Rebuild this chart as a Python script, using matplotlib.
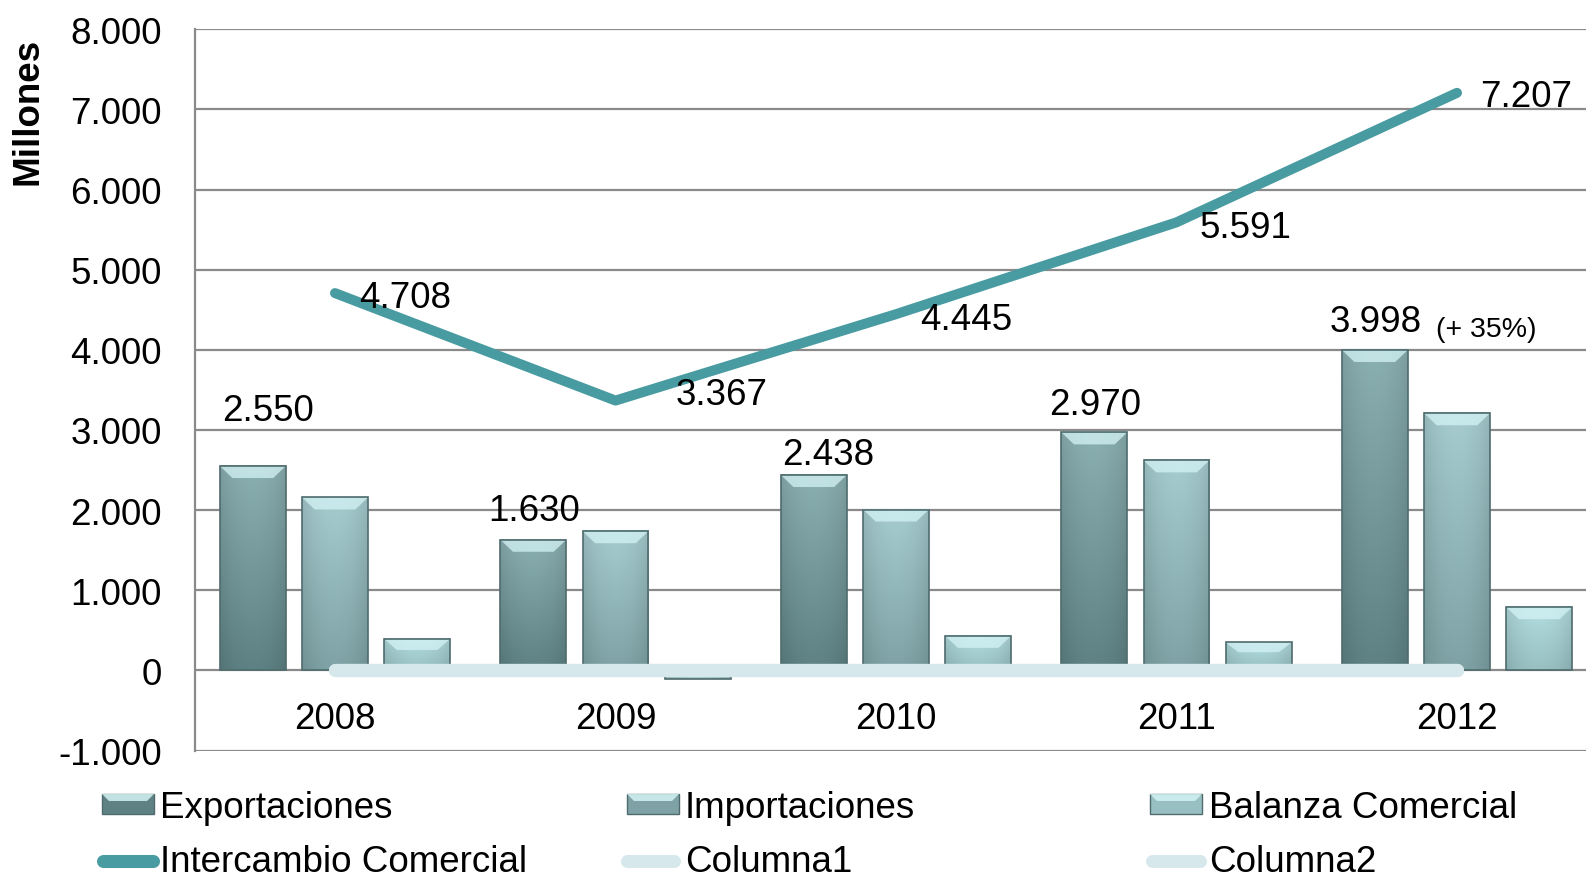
import matplotlib.pyplot as plt
import numpy as np
from matplotlib.patches import Rectangle, Polygon
from matplotlib.lines import Line2D
from matplotlib.colors import to_rgb

plt.rcParams['font.family'] = ['Liberation Sans', 'DejaVu Sans']

# Data (millones)
years = ['2008', '2009', '2010', '2011', '2012']
exportaciones = [2550, 1630, 2438, 2970, 3998]
importaciones = [2158, 1737, 2007, 2621, 3209]
balanza = [392, -107, 431, 349, 789]
intercambio = [4708, 3367, 4445, 5591, 7207]
columna1 = [0, 0, 0, 0, 0]
columna2 = [0, 0, 0, 0, 0]
yticks = [-1000, 0, 1000, 2000, 3000, 4000, 5000, 6000, 7000, 8000]
nota_2012 = '(+ 35%)'

# Label placement offsets (layout only)
exp_lbl_dx = [-0.24, -0.29, -0.24, -0.29, -0.29]
exp_lbl_dy = [577, 248, 134, 233, 240]
line_lbl_dx = [0.25, 0.38, 0.25, 0.245, 0.245]
line_lbl_dy = [-179, -38, -182, -179, -166]

# Colours (top, bottom) for the gradient bars
c_exp = ('#8bb0b2', '#5e8284')
c_imp = ('#a6ccd0', '#7ea2a5')
c_bal = ('#b3dde0', '#98c0c3')
c_bevel = '#d4f3f5'
c_edge = '#4f6b6d'
c_line = '#489ba1'
c_col = '#d6e8eb'
c_grid = '#8a8a8a'

FS = 26.5
W, H = 1586, 879


def fmt(v):
    return f'{v:,}'.replace(',', '.')


def gradient_bar(ax, x, w, h, colors):
    top, bottom = np.array(to_rgb(colors[0])), np.array(to_rgb(colors[1]))
    xl, xr = x - w / 2, x + w / 2
    y0, y1 = (0, h) if h >= 0 else (h, 0)
    t = np.linspace(0, 1, 64)[:, None, None]
    u = np.linspace(-1, 1, 24)[None, :, None]
    img = bottom * (1 - t) + top * t
    img = img * (1 - 0.10 * u ** 2)
    ax.imshow(np.clip(img, 0, 1), extent=[xl, xr, y0, y1], origin='lower',
              aspect='auto', interpolation='bilinear', zorder=2)
    ax.add_patch(Rectangle((xl, y0), w, y1 - y0, fill=False,
                           edgecolor=c_edge, lw=1.2, zorder=2.2))
    if h > 0:
        bh = min(150, h * 0.35)
        bw = 0.045
        ax.add_patch(Polygon([(xl, h), (xr, h), (xr - bw, h - bh), (xl + bw, h - bh)],
                             closed=True, facecolor=c_bevel, edgecolor='none',
                             alpha=0.75, zorder=2.1))


fig = plt.figure(figsize=(W / 100, H / 100), dpi=100)
ax = fig.add_axes([194.75 / W, 1 - 751.5 / H, 1402.5 / W, 721.2 / H])

x = np.arange(len(years))
step = 0.293
bw = 0.235
for i in x:
    gradient_bar(ax, i - step, bw, exportaciones[i], c_exp)
    gradient_bar(ax, i, bw, importaciones[i], c_imp)
    gradient_bar(ax, i + step, bw, balanza[i], c_bal)

ax.plot(x, columna1, color=c_col, lw=9.5, solid_capstyle='round', zorder=3)
ax.plot(x, columna2, color=c_col, lw=9.5, solid_capstyle='round', zorder=3)
ax.plot(x, intercambio, color=c_line, lw=7.2, solid_capstyle='round',
        solid_joinstyle='round', zorder=4)

# Data labels
for i in x:
    ax.text(i + exp_lbl_dx[i], exportaciones[i] + exp_lbl_dy[i], fmt(exportaciones[i]),
            ha='center', va='baseline', fontsize=FS, zorder=5)
    ax.text(i + line_lbl_dx[i], intercambio[i] + line_lbl_dy[i], fmt(intercambio[i]),
            ha='center', va='baseline', fontsize=FS, zorder=5)
ax.text(3.925, 4176, nota_2012, ha='left', va='baseline', fontsize=20.5, zorder=5)

# Category labels
for i, yr in enumerate(years):
    ax.text(i, -720, yr, ha='center', va='baseline', fontsize=FS)

ax.set_xlim(-0.5, 4.5)
ax.set_ylim(-1000, 8000)
ax.set_yticks(yticks)
ax.set_yticklabels([fmt(v) for v in yticks], fontsize=FS)
ax.set_xticks([])
ax.tick_params(axis='y', length=0, pad=23.5)
ax.grid(True, axis='y', color=c_grid, lw=1.6)
ax.set_axisbelow(True)
for s in ['top', 'right', 'bottom']:
    ax.spines[s].set_visible(False)
ax.spines['left'].set_color(c_grid)
ax.spines['left'].set_linewidth(1.6)

fig.text(28 / W, 1 - 111 / H, 'Millones', rotation=90, ha='center', va='center',
         fontsize=FS, fontweight='bold')

# Legend, drawn by hand to keep Excel's equal column widths
def fx(px):
    return px / W


def fy(py):
    return 1 - py / H


patch_x = [102, 627, 1150]
text_x = [160, 685, 1209]
bar_names = ['Exportaciones', 'Importaciones', 'Balanza Comercial']
bar_cols = [c_exp, c_imp, c_bal]
for px, tx, name, cc in zip(patch_x, text_x, bar_names, bar_cols):
    fig.patches.append(Rectangle((fx(px), fy(815)), fx(52), 20 / H,
                                 transform=fig.transFigure, facecolor=cc[1],
                                 edgecolor=c_edge, lw=1.0))
    fig.patches.append(Polygon([(fx(px), fy(795)), (fx(px + 52), fy(795)),
                                (fx(px + 45), fy(802)), (fx(px + 7), fy(802))],
                               closed=True, transform=fig.transFigure,
                               facecolor=c_bevel, edgecolor='none', alpha=0.85))
    fig.text(fx(tx), fy(818), name, fontsize=FS, ha='left', va='baseline')

line_x = [(103.5, 152.5), (626.5, 673.5), (1151.5, 1199.5)]
line_names = ['Intercambio Comercial', 'Columna1', 'Columna2']
line_cols = [c_line, c_col, c_col]
for (x0, x1), tx, name, cc in zip(line_x, text_x, line_names, line_cols):
    fig.lines.append(Line2D([fx(x0), fx(x1)], [fy(862), fy(862)],
                            transform=fig.transFigure, color=cc, lw=9.4,
                            solid_capstyle='round'))
    fig.text(fx(tx), fy(872), name, fontsize=FS, ha='left', va='baseline')

fig.savefig('out.png', dpi=100)
